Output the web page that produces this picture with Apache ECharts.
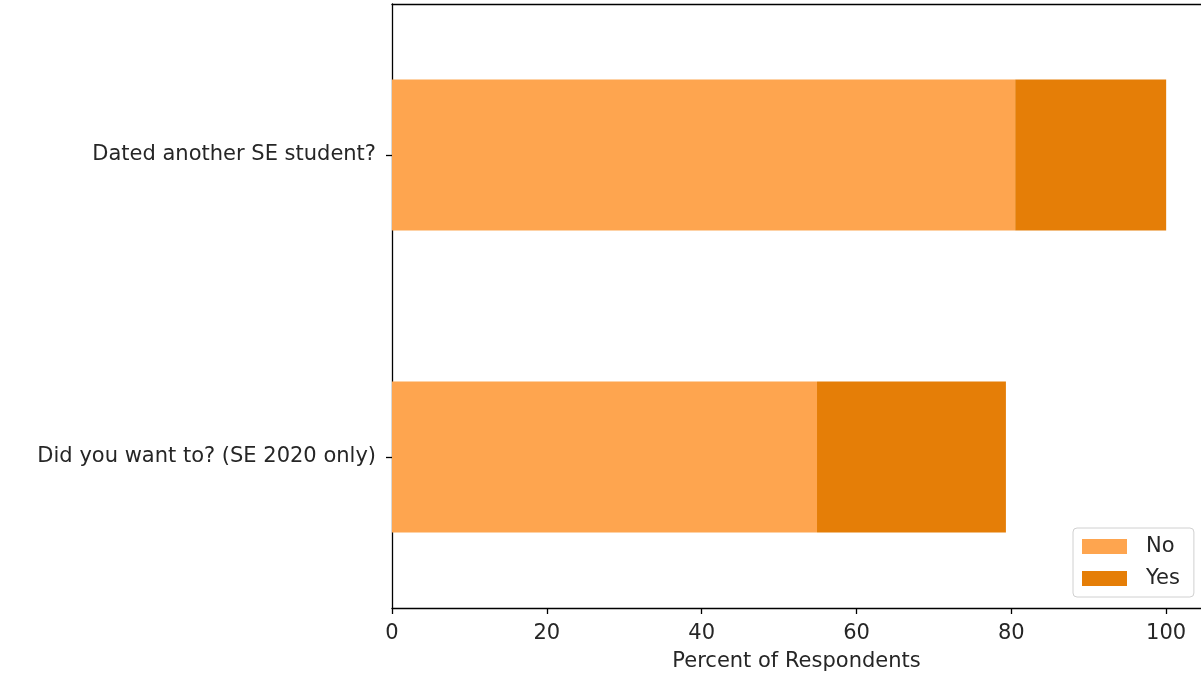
<!DOCTYPE html>
<html>
<head>
<meta charset="utf-8">
<script src="https://cdn.jsdelivr.net/npm/echarts@6/dist/echarts.min.js"></script>
<style>html,body{margin:0;padding:0;background:#fff}#c{width:1201px;height:677px}</style>
</head>
<body>
<div id="c"></div>
<script>
const categories = ['Did you want to? (SE 2020 only)', 'Dated another SE student?'];
const noValues = [54.9, 80.5];
const yesValues = [24.4, 19.5];
const seriesNames = ['No', 'Yes'];
const xTicks = { min: 0, max: 104.5, interval: 20 };
const xLabel = 'Percent of Respondents';

const FONT = 'DejaVu Sans';
const FS = 21;
const TXT = '#262626';
const chart = echarts.init(document.getElementById('c'), null, { renderer: 'canvas' });
chart.setOption({
  animation: false,
  backgroundColor: '#fff',
  textStyle: { fontFamily: FONT },
  grid: { left: 392, top: 4, width: 809, height: 605 },
  legend: {
    orient: 'vertical', left: 1073, top: 528,
    data: seriesNames,
    itemWidth: 45, itemHeight: 15, itemGap: 11,
    padding: [8, 14, 8, 9],
    borderColor: '#d0d0d0', borderWidth: 1, borderRadius: 4, backgroundColor: '#fff',
    icon: 'rect',
    textStyle: { fontFamily: FONT, fontSize: FS, color: TXT, padding: [0, 0, 0, 14] }
  },
  xAxis: [{
    type: 'value', min: xTicks.min, max: xTicks.max, interval: xTicks.interval,
    name: xLabel, nameLocation: 'middle', nameGap: 43,
    nameTextStyle: { fontFamily: FONT, fontSize: FS, color: TXT },
    axisLine: { show: true, lineStyle: { color: '#000', width: 1.3 } },
    axisTick: { show: true, length: 6, lineStyle: { color: '#000', width: 1.3 } },
    axisLabel: { fontFamily: FONT, fontSize: FS, color: TXT, margin: 15, showMaxLabel: false },
    splitLine: { show: false }
  }, {
    type: 'value', position: 'top', min: 0, max: 1,
    axisLine: { show: true, onZero: false, lineStyle: { color: '#000', width: 1.3 } },
    axisTick: { show: false }, axisLabel: { show: false }, splitLine: { show: false }
  }],
  yAxis: {
    type: 'category', data: categories,
    axisLine: { show: true, lineStyle: { color: '#000', width: 1.3 } },
    axisTick: { show: true, length: 6, alignWithLabel: true, lineStyle: { color: '#000', width: 1.3 } },
    axisLabel: { fontFamily: FONT, fontSize: FS, color: TXT, margin: 16 },
    splitLine: { show: false }
  },
  series: [
    { name: seriesNames[0], type: 'bar', stack: 'a', data: noValues, barWidth: '50%', itemStyle: { color: '#fea54f' } },
    { name: seriesNames[1], type: 'bar', stack: 'a', data: yesValues, barWidth: '50%', itemStyle: { color: '#e57e07' } }
  ]
});
</script>
</body>
</html>
